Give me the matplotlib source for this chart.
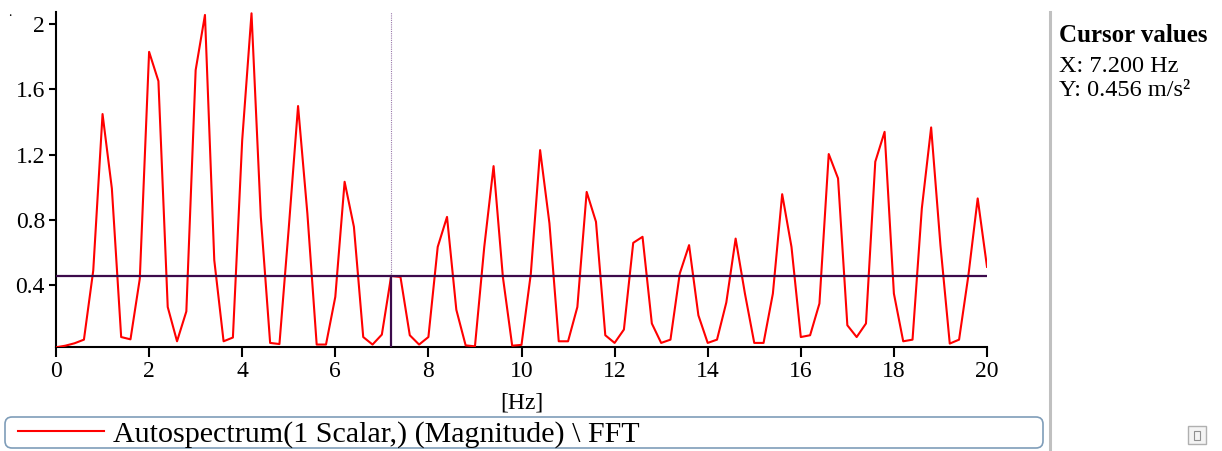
import matplotlib
matplotlib.use("Agg")
import numpy as np
import matplotlib.pyplot as plt
from matplotlib.lines import Line2D
from matplotlib.patches import Rectangle, FancyBboxPatch
from matplotlib.ticker import FuncFormatter

plt.rcParams.update({
    "font.family": ["Liberation Serif", "DejaVu Serif"],
    "font.size": 17,
})

# spectrum samples, 0.2 Hz apart from 0 to 20 Hz
freq_step = 0.2
magnitude = [
    0.020, 0.030, 0.045, 0.067, 0.490, 1.449, 0.993, 0.083, 0.069, 0.440,
    1.830, 1.651, 0.267, 0.057, 0.240, 1.718, 2.056, 0.554, 0.057, 0.080,
    1.289, 2.066, 0.819, 0.047, 0.040, 0.750, 1.498, 0.840, 0.037, 0.037,
    0.329, 1.034, 0.758, 0.083, 0.037, 0.098, 0.457, 0.451, 0.094, 0.037,
    0.083, 0.635, 0.819, 0.250, 0.032, 0.026, 0.635, 1.130, 0.451, 0.030,
    0.035, 0.470, 1.228, 0.780, 0.057, 0.057, 0.267, 0.972, 0.789, 0.094,
    0.047, 0.129, 0.660, 0.697, 0.166, 0.047, 0.067, 0.472, 0.646, 0.216,
    0.047, 0.067, 0.295, 0.686, 0.349, 0.047, 0.047, 0.349, 0.958, 0.635,
    0.083, 0.094, 0.288, 1.204, 1.055, 0.155, 0.083, 0.166, 1.157, 1.340,
    0.349, 0.057, 0.067, 0.871, 1.367, 0.645, 0.043, 0.067, 0.460, 0.932,
    0.513,
]
freqs = np.arange(len(magnitude)) * freq_step

cursor_x = 7.2
cursor_y = 0.456
x_ticks = [0, 2, 4, 6, 8, 10, 12, 14, 16, 18, 20]
y_ticks = [0.4, 0.8, 1.2, 1.6, 2.0]
series_label = "Autospectrum(1 Scalar,) (Magnitude) \\ FFT"

W, H = 1222, 451
fig = plt.figure(figsize=(W / 100, H / 100), dpi=100)
ax = fig.add_axes([56 / W, 1 - 347 / H, (987 - 56) / W, (347 - 12) / H])

line, = ax.plot(freqs, magnitude, color="#ff0000", lw=1.5, label=series_label, zorder=3)

cur = "#3c0a4b"
ax.axhline(cursor_y, color=cur, lw=1.6, zorder=4)
ax.plot([cursor_x, cursor_x], [cursor_y, 2.074], color="#9a7aaa", lw=0.8,
        linestyle=(0, (1, 1)), zorder=2)
ax.plot([cursor_x, cursor_x], [0.022, cursor_y], color=cur, lw=1.6, zorder=4)

ax.set_xlim(0, 20)
ax.set_ylim(0.022, 2.074)
ax.set_xticks(x_ticks)
ax.set_yticks(y_ticks)
ax.yaxis.set_major_formatter(FuncFormatter(lambda v, p: f"{v:g}"))
for s in ("top", "right"):
    ax.spines[s].set_visible(False)
for s in ("left", "bottom"):
    ax.spines[s].set_linewidth(1.5)
ax.tick_params(axis="x", direction="out", length=7, width=1.5, pad=3)
ax.tick_params(axis="y", direction="out", length=5, width=1.5, pad=3)
ax.set_xlabel("[Hz]", labelpad=8)

# legend: rounded frame drawn separately, entry placed inside it
frame = FancyBboxPatch((0.05, 0.03), 10.38, 0.31,
                       boxstyle="round,pad=0,rounding_size=0.07",
                       transform=fig.dpi_scale_trans,
                       facecolor="none", edgecolor="#7f9db9", lw=1.2)
fig.add_artist(frame)
leg = fig.legend(handles=[line], loc="center left",
                 bbox_to_anchor=(18 / W, 1 - 434 / H),
                 frameon=False, handlelength=2.85, handletextpad=0.33,
                 borderpad=0, borderaxespad=0, fontsize=21.6)

# right side cursor panel
fig.add_artist(Line2D([1050 / W, 1050 / W], [0, 1 - 12 / H], color="#c0c0c0", lw=2.2))
fig.text(1059 / W, 1 - 36 / H, "Cursor values", fontweight="bold", va="center", fontsize=18)
fig.text(1059 / W, 1 - 66 / H, "X: 7.200 Hz", va="center", fontsize=17.5)
fig.text(1059 / W, 1 - 91 / H, "Y: 0.456 m/s²", va="center", fontsize=17.5)

fig.add_artist(Rectangle((1188 / W, 1 - 444 / H), 18 / W, 18 / H, transform=fig.transFigure,
                         facecolor="#f4f4f4", edgecolor="#b0b0b0", lw=1))
fig.add_artist(Rectangle((1194 / W, 1 - 440 / H), 6 / W, 9 / H, transform=fig.transFigure,
                         facecolor="none", edgecolor="#909090", lw=0.8))
fig.text(8 / W, 1 - 12 / H, ".", fontsize=10, va="center")

fig.savefig("out.png", dpi=100)
